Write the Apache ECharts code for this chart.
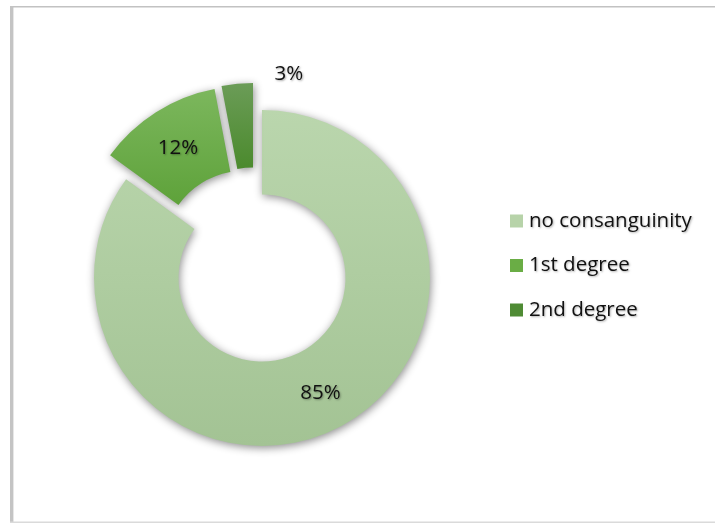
<!DOCTYPE html>
<html>
<head>
<meta charset="utf-8">
<script src="https://cdn.jsdelivr.net/npm/echarts@6/dist/echarts.min.js"></script>
<style>
  html, body { margin: 0; padding: 0; background: #fff; }
  #chart { width: 715px; height: 523px; }
</style>
</head>
<body>
<div id="chart"></div>
<script>
// Consanguinity shares (percent)
const categories = ['no consanguinity', '1st degree', '2nd degree'];
const shares = [85, 12, 3];

// Slice fills: top and bottom stops of each vertical gradient, plus legend swatch
const fillTop = ['#bad6ad', '#7cb75d', '#6b9c57'];
const fillBottom = ['#a3c394', '#5ea23a', '#4b8a2d'];
const swatch = ['#b7d3a9', '#6aad45', '#4f8b34'];

// Ring centres: the whole ring, then the two pulled-out slices
const ringCentres = [[262, 278], [246, 254], [253, 251]];

// Label nudges per slice (the small slice keeps its label outside the ring)
const labelNudges = [null, { dx: 1, dy: 3 }, { dx: 48, dy: -49 }];

const FONT = '"Open Sans", "Noto Sans", sans-serif';

function gradient(i) {
  return new echarts.graphic.LinearGradient(0, 0, 0, 1, [
    { offset: 0, color: fillTop[i] },
    { offset: 1, color: fillBottom[i] }
  ]);
}

// One pie per visible slice, so each pulled-out slice gets its own centre
function ring(visibleIndex) {
  return {
    type: 'pie',
    name: categories[visibleIndex],
    center: ringCentres[visibleIndex],
    radius: [83.5, 168],
    startAngle: 90,
    clockwise: true,
    avoidLabelOverlap: false,
    silent: true,
    animation: false,
    emphasis: { disabled: true },
    labelLine: { show: false },
    labelLayout: labelNudges[visibleIndex] || undefined,
    data: categories.map((name, i) => ({
      name: name,
      value: shares[i],
      itemStyle: i === visibleIndex ? {
        color: gradient(i),
        shadowBlur: 9,
        shadowColor: 'rgba(0,0,0,0.45)',
        shadowOffsetX: 1,
        shadowOffsetY: 2
      } : { color: 'rgba(0,0,0,0)' },
      label: i === visibleIndex ? {
        show: true,
        position: 'inside',
        formatter: '{c}%',
        fontFamily: FONT,
        fontSize: 20.5,
        color: '#111',
        textShadowColor: 'rgba(0,0,0,0.35)',
        textShadowBlur: 2,
        textShadowOffsetX: 1,
        textShadowOffsetY: 1
      } : { show: false }
    }))
  };
}

const chart = echarts.init(document.getElementById('chart'), null, { renderer: 'canvas' });

chart.setOption({
  backgroundColor: '#ffffff',
  graphic: [
    { type: 'rect', silent: true, shape: { x: 10, y: 6, width: 705, height: 1.6 }, style: { fill: '#c2c2c2' } },
    { type: 'rect', silent: true, shape: { x: 10, y: 6, width: 3.4, height: 517 }, style: { fill: '#c4c4c4' } },
    { type: 'rect', silent: true, shape: { x: 10, y: 521.5, width: 705, height: 1.5 }, style: { fill: '#dadada' } }
  ],
  legend: {
    orient: 'vertical',
    left: 510,
    top: 210,
    padding: 0,
    itemWidth: 13,
    itemHeight: 13,
    itemGap: 22.5,
    icon: 'rect',
    selectedMode: false,
    data: categories.map((name, i) => ({
      name: name,
      itemStyle: { color: swatch[i] }
    })),
    textStyle: {
      fontFamily: FONT,
      fontSize: 20.5,
      lineHeight: 22,
      color: '#111',
      padding: [0, 0, 0, 1],
      textShadowColor: 'rgba(0,0,0,0.3)',
      textShadowBlur: 2,
      textShadowOffsetX: 1,
      textShadowOffsetY: 1
    }
  },
  series: [ring(0), ring(1), ring(2)]
});
</script>
</body>
</html>
